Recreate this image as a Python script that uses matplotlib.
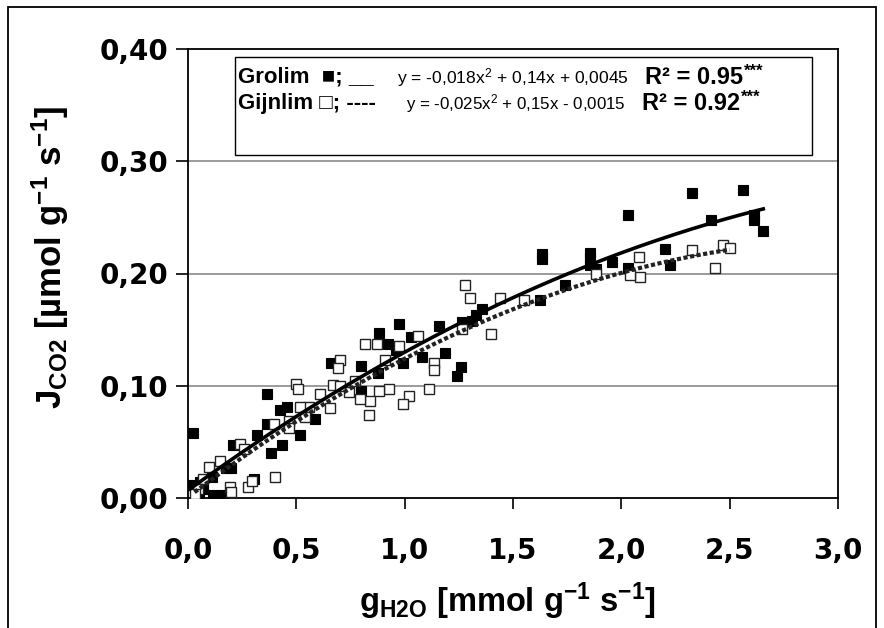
import numpy as np
import matplotlib
matplotlib.use("Agg")
import matplotlib.pyplot as plt
from matplotlib.patches import Rectangle

plt.rcParams['font.family'] = ['Liberation Sans', 'DejaVu Sans']
plt.rcParams['mathtext.fontset'] = 'custom'
plt.rcParams['mathtext.rm'] = 'Liberation Sans'
plt.rcParams['mathtext.it'] = 'Liberation Sans:italic'
plt.rcParams['mathtext.bf'] = 'Liberation Sans:bold'
plt.rcParams['mathtext.default'] = 'regular'

# ---- data ----
grolim_x = [0.022, 2.325, 2.56, 2.03, 2.415, 2.61, 2.61, 2.655, 2.20, 2.225,
            2.03, 1.955, 1.885, 1.857, 1.857, 1.857, 1.634, 1.634, 1.738, 1.623,
            1.356, 1.33, 1.31, 1.265, 1.16, 1.187, 1.26, 1.24, 0.974, 1.031,
            1.078, 0.992, 0.883, 0.922, 0.96, 0.875, 0.80, 0.80, 0.66, 0.584,
            0.517, 0.364, 0.364, 0.426, 0.455, 0.434, 0.384, 0.317, 0.304, 0.208,
            0.20, 0.174, 0.109, 0.03, 0.055, 0.07, 0.01, 0.16, 0.117, 0.05]
grolim_y = [0.058, 0.272, 0.274, 0.252, 0.2475, 0.252, 0.248, 0.2375, 0.222, 0.208,
            0.205, 0.210, 0.204, 0.218, 0.214, 0.208, 0.217, 0.2125, 0.190, 0.176,
            0.168, 0.163, 0.158, 0.157, 0.153, 0.129, 0.1165, 0.109, 0.155, 0.143,
            0.126, 0.120, 0.147, 0.1375, 0.1315, 0.111, 0.118, 0.0957, 0.1207, 0.0707,
            0.0557, 0.093, 0.066, 0.078, 0.081, 0.0475, 0.040, 0.0557, 0.017, 0.0475,
            0.027, 0.027, 0.019, 0.010, 0.014, 0.008, 0.012, 0.003, 0.003, 0.003]

gijnlim_x = [2.325, 2.47, 2.50, 2.434, 2.083, 2.088, 2.04, 1.885, 1.55, 1.44,
             1.28, 1.30, 1.40, 1.265, 1.135, 1.135, 1.11, 1.018, 0.992, 1.062,
             0.974, 0.909, 0.927, 0.883, 0.839, 0.836, 0.818, 0.870, 0.792, 0.745,
             0.771, 0.701, 0.694, 0.668, 0.701, 0.61, 0.655, 0.558, 0.517, 0.499,
             0.506, 0.538, 0.468, 0.468, 0.397, 0.403, 0.278, 0.296, 0.239, 0.257,
             0.148, 0.096, 0.192, 0.20, 0.07, 0.044, 0.03]
gijnlim_y = [0.221, 0.225, 0.2225, 0.205, 0.2146, 0.197, 0.199, 0.200, 0.176, 0.178,
             0.190, 0.178, 0.1464, 0.151, 0.1207, 0.1136, 0.0968, 0.091, 0.084, 0.144,
             0.135, 0.1225, 0.0975, 0.0957, 0.0868, 0.0743, 0.1375, 0.137, 0.0886, 0.094,
             0.104, 0.1225, 0.116, 0.101, 0.100, 0.093, 0.080, 0.081, 0.081, 0.1018,
             0.0975, 0.0725, 0.069, 0.062, 0.066, 0.019, 0.010, 0.0154, 0.048, 0.044,
             0.033, 0.028, 0.010, 0.005, 0.017, 0.008, 0.004]

x_ticks = [0.0, 0.5, 1.0, 1.5, 2.0, 2.5, 3.0]
y_ticks = [0.0, 0.1, 0.2, 0.3, 0.4]
x_ticklabels = ["0,0", "0,5", "1,0", "1,5", "2,0", "2,5", "3,0"]
y_ticklabels = ["0,00", "0,10", "0,20", "0,30", "0,40"]

eq1 = "y = -0,018x$^2$ + 0,14x + 0,0045"
eq2 = "y = -0,025x$^2$ + 0,15x - 0,0015"
r2_1 = "R\u00b2 = 0.95"
r2_2 = "R\u00b2 = 0.92"
signif = "***"

# ---- figure ----
W, H = 884, 628
fig = plt.figure(figsize=(W / 100, H / 100), dpi=100)
L, R_, T, B = 188, 838, 49, 498
ax = fig.add_axes([L / W, 1 - B / H, (R_ - L) / W, (B - T) / H])

ax.set_xlim(0, 3.0)
ax.set_ylim(0, 0.4)
for yv in y_ticks[1:-1]:
    ax.axhline(yv, color='#7f7f7f', lw=1.1, zorder=0)

ax.plot(grolim_x, grolim_y, linestyle='none', marker='s', ms=7.8,
        mfc='black', mec='black', mew=0.8, zorder=3)
ax.plot(gijnlim_x, gijnlim_y, linestyle='none', marker='s', ms=7.8,
        mfc='white', mec='#222222', mew=1.0, zorder=3)

cg = np.polyfit(grolim_x, grolim_y, 2)
xg = np.linspace(min(grolim_x), max(grolim_x), 200)
ax.plot(xg, np.polyval(cg, xg), color='black', lw=2.6, zorder=4)
cj = np.polyfit(gijnlim_x, gijnlim_y, 2)
xj = np.linspace(min(gijnlim_x), max(gijnlim_x), 200)
ax.plot(xj, np.polyval(cj, xj), color='#222222', lw=3.0,
        linestyle=(0, (1.0, 0.6)), zorder=4)

ax.set_xticks(x_ticks)
ax.set_xticklabels(x_ticklabels)
ax.set_yticks(y_ticks)
ax.set_yticklabels(y_ticklabels)
ax.tick_params(axis='both', direction='out', width=1.2, color='black')
ax.tick_params(axis='y', length=9, pad=5)
ax.tick_params(axis='x', length=8, pad=20)
for lab in ax.get_xticklabels() + ax.get_yticklabels():
    lab.set_fontweight('bold')
    lab.set_family(['DejaVu Sans'])
    lab.set_fontsize(20)
for s in ax.spines.values():
    s.set_linewidth(1.3)
    s.set_color('black')

# legend box
def axc(px, py):
    return ((px - L) / (R_ - L), (B - py) / (B - T))
x0, y0 = axc(235, 155)
x1, y1 = axc(812, 57)
ax.add_patch(Rectangle((x0, y0), x1 - x0, y1 - y0, transform=ax.transAxes,
                       facecolor='white', edgecolor='black', lw=1.0, zorder=5))

def ft(px, py, s, **kw):
    return fig.text(px / W, 1 - py / H, s, va='center', ha='left', zorder=6, **kw)

renderer = fig.canvas.get_renderer()

ft(238, 77, "Grolim  \u25a0; __", fontsize=16, fontweight='bold')
ft(238, 103, "Gijnlim \u25a1; ----", fontsize=16, fontweight='bold')
ft(397, 78, eq1, fontsize=12.6)
ft(406, 104, eq2, fontsize=12.2)
for px, py, s in [(645, 77, r2_1), (642, 103, r2_2)]:
    t = ft(px, py, s, fontsize=17, fontweight='bold')
    bb = t.get_window_extent(renderer)
    fig.text(bb.x1 / W + 1 / W, 1 - (py - 6) / H, signif, va='center', ha='left',
             fontsize=12, fontweight='bold', zorder=6)

# axis labels
fig.text(50 / W, 1 - 257 / H,
         r"$\mathbf{J_{CO2}}$ [µmol g$^{\mathbf{-1}}$ s$^{\mathbf{-1}}$]",
         rotation=90, ha='center', va='center', fontsize=25, fontweight='bold')
fig.text(507 / W, 1 - 601 / H,
         r"$\mathbf{g_{H2O}}$ [mmol g$^{\mathbf{-1}}$ s$^{\mathbf{-1}}$]",
         ha='center', va='center', fontsize=23.5, fontweight='bold')

# outer border
fig.add_artist(Rectangle((8 / W, -0.05), (876 - 8) / W, 1 - 7 / H + 0.05,
                         transform=fig.transFigure, fill=False,
                         edgecolor='black', lw=1.3))

fig.savefig("out.png", dpi=100)
